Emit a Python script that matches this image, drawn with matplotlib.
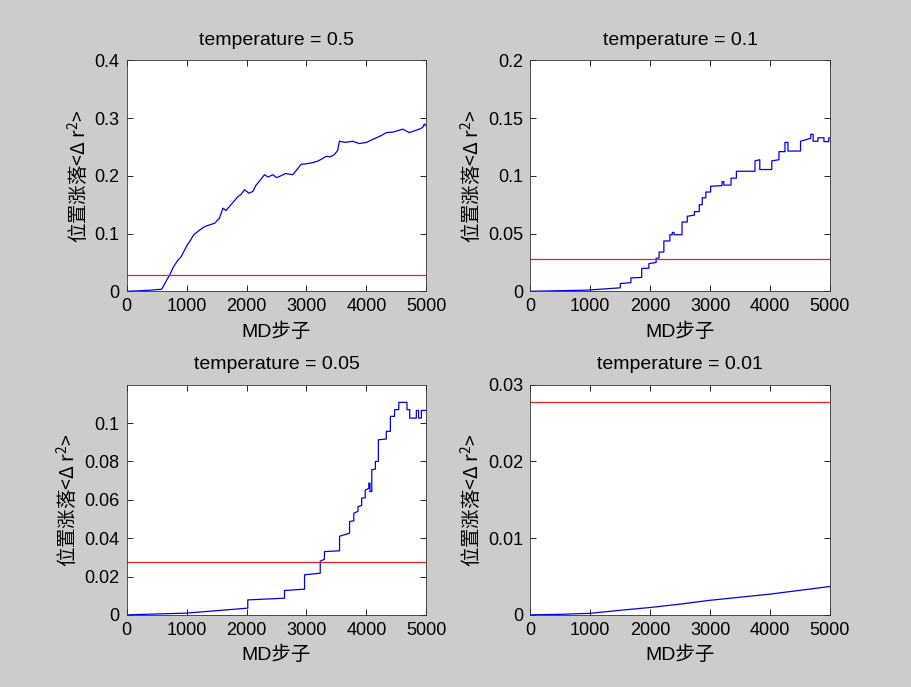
import matplotlib
matplotlib.use("Agg")
import matplotlib.pyplot as plt

plt.rcParams['font.family'] = ['Liberation Sans', 'Noto Sans CJK SC', 'DejaVu Sans']

# T = 0.5
x_05 = [0, 200, 400, 578, 594, 650, 717, 780, 856, 910, 967, 1010, 1050, 1120, 1217, 1300,
        1383, 1470, 1550, 1606, 1660, 1717, 1790, 1856, 1910, 1967, 2040, 2106, 2160, 2217,
        2300, 2360, 2439, 2500, 2550, 2650, 2772, 2850, 2911, 3000, 3106, 3200, 3333, 3400,
        3467, 3520, 3550, 3650, 3772, 3880, 4000, 4080, 4167, 4250, 4333, 4450, 4606, 4717,
        4800, 4883, 4940, 4967, 5000]
y_05 = [0, 0.0008, 0.002, 0.0035, 0.005, 0.016, 0.028, 0.042, 0.054, 0.060, 0.0715, 0.080,
        0.086, 0.098, 0.106, 0.112, 0.115, 0.118, 0.127, 0.144, 0.140, 0.147, 0.156, 0.164,
        0.168, 0.176, 0.170, 0.173, 0.184, 0.191, 0.202, 0.198, 0.202, 0.197, 0.199, 0.204,
        0.202, 0.212, 0.220, 0.221, 0.223, 0.226, 0.234, 0.233, 0.237, 0.244, 0.260, 0.258,
        0.260, 0.256, 0.258, 0.262, 0.266, 0.270, 0.275, 0.276, 0.281, 0.275, 0.278, 0.281,
        0.284, 0.290, 0.286]

# T = 0.1 (step-like growth)
x_01 = [0, 947, 1503, 1503, 1680, 1680, 1860, 1860, 1980, 1980, 2100, 2100, 2150, 2150,
        2230, 2230, 2330, 2330, 2370, 2370, 2400, 2400, 2533, 2533, 2620, 2620, 2740, 2740,
        2820, 2820, 2870, 2870, 2930, 2930, 3010, 3010, 3200, 3200, 3230, 3230, 3350, 3350,
        3440, 3440, 3750, 3750, 3830, 3830, 4030, 4030, 4150, 4150, 4250, 4250, 4300, 4300,
        4510, 4510, 4680, 4680, 4720, 4720, 4800, 4800, 4900, 4900, 4980, 4980, 5000]
y_01 = [0, 0.001, 0.003, 0.0067, 0.0075, 0.0116, 0.012, 0.0198, 0.020, 0.024, 0.025, 0.0285,
        0.029, 0.034, 0.034, 0.0436, 0.0436, 0.049, 0.049, 0.051, 0.051, 0.049, 0.049, 0.060,
        0.060, 0.065, 0.066, 0.069, 0.069, 0.075, 0.075, 0.081, 0.081, 0.086, 0.086, 0.091,
        0.0916, 0.095, 0.095, 0.092, 0.092, 0.098, 0.098, 0.104, 0.104, 0.113, 0.114, 0.1055,
        0.1055, 0.113, 0.114, 0.121, 0.121, 0.129, 0.129, 0.1215, 0.1215, 0.130, 0.1326,
        0.136, 0.136, 0.130, 0.130, 0.133, 0.133, 0.1297, 0.1297, 0.133, 0.133]

# T = 0.05 (step-like growth)
x_005 = [0, 991, 2021, 2021, 2634, 2634, 2968, 2968, 3230, 3230, 3300, 3300, 3552, 3552,
         3719, 3719, 3790, 3790, 3860, 3860, 3920, 3920, 3980, 3980, 4040, 4040, 4060, 4060,
         4090, 4090, 4150, 4150, 4200, 4200, 4332, 4332, 4400, 4400, 4470, 4470, 4540, 4540,
         4677, 4677, 4722, 4722, 4833, 4833, 4870, 4870, 4917, 4917, 5000]
y_005 = [0, 0.0009, 0.0035, 0.0078, 0.0087, 0.0127, 0.0134, 0.0209, 0.0217, 0.028, 0.029,
         0.033, 0.0334, 0.041, 0.0426, 0.0487, 0.049, 0.053, 0.054, 0.0565, 0.057, 0.0609,
         0.061, 0.065, 0.066, 0.0687, 0.0687, 0.0643, 0.0643, 0.0757, 0.076, 0.080, 0.080,
         0.0913, 0.0917, 0.0957, 0.0957, 0.1035, 0.1035, 0.107, 0.107, 0.1108, 0.1108, 0.107,
         0.107, 0.1026, 0.1026, 0.1066, 0.1066, 0.1026, 0.1026, 0.1066, 0.1066]

# T = 0.01
x_001 = [0, 500, 1000, 1500, 2000, 2500, 3000, 3500, 4000, 4500, 5000]
y_001 = [0, 0.00007, 0.0002, 0.0006, 0.00096, 0.0014, 0.0019, 0.0023, 0.0027, 0.0032, 0.0037]

threshold = 0.0278
temps = ['0.5', '0.1', '0.05', '0.01']
series = [(x_05, y_05), (x_01, y_01), (x_005, y_005), (x_001, y_001)]
ylims = [0.4, 0.2, 0.12, 0.03]
yticks = [[0, 0.1, 0.2, 0.3, 0.4],
          [0, 0.05, 0.1, 0.15, 0.2],
          [0, 0.02, 0.04, 0.06, 0.08, 0.1],
          [0, 0.01, 0.02, 0.03]]
ytick_labels = [['0', '0.1', '0.2', '0.3', '0.4'],
                ['0', '0.05', '0.1', '0.15', '0.2'],
                ['0', '0.02', '0.04', '0.06', '0.08', '0.1'],
                ['0', '0.01', '0.02', '0.03']]
xticks = [0, 1000, 2000, 3000, 4000, 5000]

fig = plt.figure(figsize=(9.11, 6.87), dpi=100, facecolor='#cccccc')
positions = [[0.139, 0.576, 0.329, 0.336],
             [0.582, 0.576, 0.329, 0.336],
             [0.139, 0.105, 0.329, 0.335],
             [0.582, 0.105, 0.329, 0.335]]

for i in range(4):
    ax = fig.add_axes(positions[i])
    xs, ys = series[i]
    ax.plot(xs, ys, color='#0000ee', lw=0.9)
    ax.axhline(threshold, color='#ee2222', lw=0.9)
    ax.set_xlim(0, 5000)
    ax.set_ylim(0, ylims[i])
    ax.set_xticks(xticks)
    ax.set_xticklabels([str(t) for t in xticks])
    ax.set_yticks(yticks[i])
    ax.set_yticklabels(ytick_labels[i])
    ax.tick_params(direction='in', top=True, right=True, length=4, width=0.6,
                   labelsize=13, pad=5)
    for sp in ax.spines.values():
        sp.set_linewidth(0.6)
        sp.set_color('#333333')
    ax.set_title('temperature = ' + temps[i], fontsize=14, pad=11)
    ax.set_xlabel('MD步子', fontsize=14, labelpad=5)
    ax.set_ylabel('位置涨落<Δ r$\\mathregular{^2}$>', fontsize=14, labelpad=3,
                  family='Noto Sans CJK SC')

fig.savefig('out.png', dpi=100, facecolor=fig.get_facecolor())
